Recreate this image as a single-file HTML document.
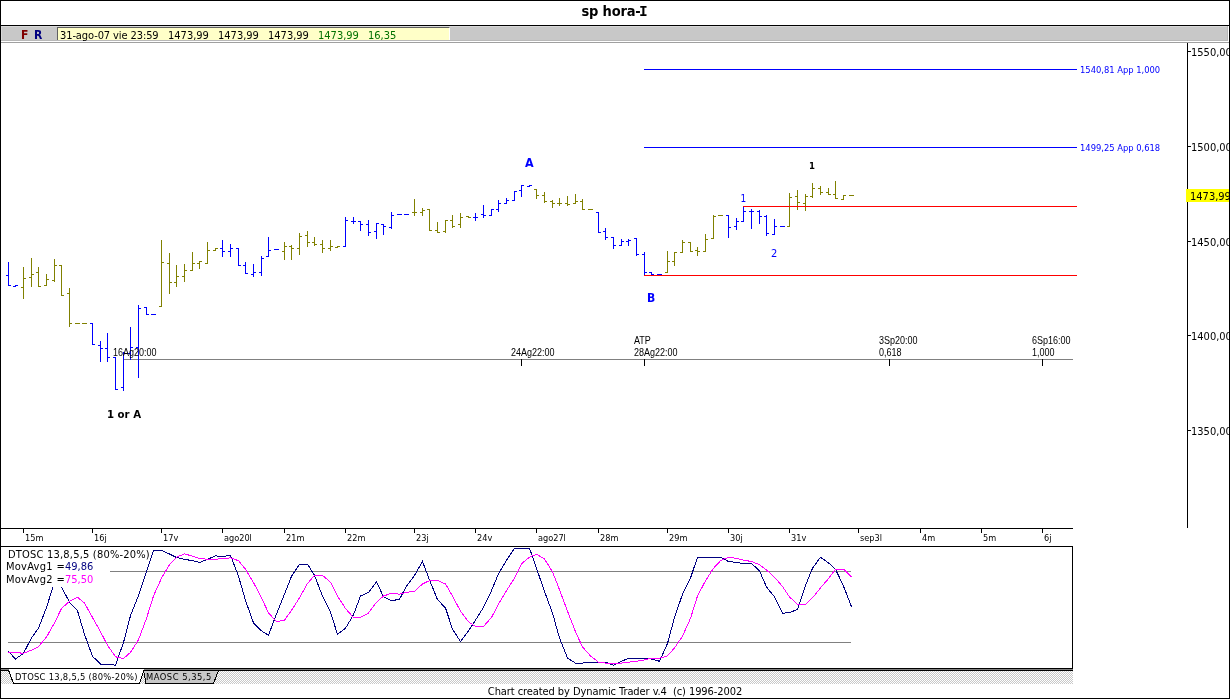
<!DOCTYPE html>
<html lang="es"><head><meta charset="utf-8"><title>sp hora-I</title>
<style>
html,body{margin:0;padding:0;background:#fff}
body{width:1230px;height:699px;position:relative;overflow:hidden;font-family:"DejaVu Sans Condensed","Liberation Sans",sans-serif;color:#000}
#win{position:absolute;left:0;top:0;width:1230px;height:699px;box-sizing:border-box;border:1px solid #000;background:#fff;overflow:hidden}
#win *{position:absolute;white-space:nowrap;margin:0;padding:0}
.title{left:0;top:-2px;width:1226px;height:24px;line-height:24px;text-align:center;font-weight:bold;font-size:14.5px;letter-spacing:-.2px}
.title i{position:static!important;font-style:normal;font-family:"DejaVu Sans Mono",monospace;font-size:14.5px;letter-spacing:0;margin:0 -1.4px 0 -1.4px!important}
.hl{left:0;top:24px;width:1228px;height:1px;background:#000}
.hl2{left:0;top:41px;width:1228px;height:1px;background:#a0a0a0}
.tbar{left:0;top:25px;width:1227px;height:15px;background:#c8c8c8;box-shadow:inset -1px -1px 0 #b8b8b8,inset 1px 1px 0 #d8d8d8}
.tbar b{top:3px;font-size:12px;line-height:13px}
.info{left:56px;top:1px;width:391px;height:12px;background:#ffffc8;border-left:1px solid #606060;border-top:1px solid #606060;border-right:1px solid #fff;font-size:11px;line-height:12px}
.info span{top:2px}
.plot{left:-1px;top:-1px}
.t9{font-family:"Liberation Sans",sans-serif;font-size:10px;line-height:10px;color:#000;transform:scaleX(.9);transform-origin:0 0}
.ap{font-size:9.3px;line-height:10px;color:#0000ff}
.ax{font-size:11px;line-height:12px;left:1190px}
.dl{font-size:9.1px;line-height:10px;top:532px}
.lb{font-weight:bold}
.osct{left:5px;top:546px;width:104px;height:40px;background:#fff;font-size:11px}
.osct span{line-height:13px;background:#fff}
.strip{left:0;top:670px;width:1072px;height:13px;background:#fff conic-gradient(#c8c8c8 25%,#fff 0 50%,#c8c8c8 0 75%,#fff 0) 0 0/2px 2px}
.tabs{left:0;top:668px}
.tabt{font-size:9.3px;line-height:11px;top:670px;letter-spacing:0}
.foot{left:0;top:684px;width:1228px;height:13px;line-height:13px;text-align:center;font-size:11px;letter-spacing:-.08px}
</style></head><body>
<div id="win">
<div class="title">sp hora-<i>I</i></div>
<div class="hl"></div><div class="hl2"></div>
<div class="tbar"><b style="left:20px;color:#800000">F</b><b style="left:33px;color:#000080">R</b>
<div class="info"><span style="left:2px;letter-spacing:-.1px">31-ago-07 vie 23:59</span><span style="left:110px">1473,99</span><span style="left:160px">1473,99</span><span style="left:210px">1473,99</span><span style="left:260px;color:#007000">1473,99</span><span style="left:310px;color:#007000">16,35</span></div></div>
<div class="strip"></div>
<svg class="plot" width="1230" height="699" viewBox="0 0 1230 699" shape-rendering="crispEdges">
<g fill="none" stroke-width="1">
<path stroke="#0000ff" d="M644 69.5H1077M644 147.5H1077"/>
<path stroke="#808080" d="M123 359.5H1073"/>
<path stroke="#000" d="M123.5 359V366M521.5 359V366M644.5 359V366M889.5 359V366M1042.5 359V366"/>
<path stroke="#808000" d="M23.5 267V299M21 287.5H24M23 278.5H26M31.5 258V287M29 277.5H32M31 274.5H34M38.5 267V287M36 272.5H39M38 286.5H41M46.5 274V286M44 285.5H47M46 279.5H49M54.5 259V282M52 280.5H55M54 265.5H57M61.5 265V296M59 265.5H62M61 295.5H64M69.5 288V327M67 293.5H70M69 323.5H72M77.5 323V324M75 323.5H78M77 323.5H80M84.5 323V324M82 323.5H85M84 323.5H87M161.5 240V307M159 306.5H162M161 262.5H164M169.5 253V294M167 263.5H170M169 282.5H172M176.5 265V287M174 282.5H177M176 276.5H179M184.5 264V282M182 276.5H185M184 270.5H187M192.5 252V271M190 270.5H193M192 263.5H195M199.5 261V269M197 263.5H200M199 261.5H202M207.5 242V264M205 263.5H208M207 250.5H210M215.5 248V251M213 250.5H216M215 248.5H218M284.5 242V260M282 251.5H285M284 246.5H287M291.5 245V260M289 246.5H292M291 248.5H294M299.5 233V255M297 248.5H300M299 236.5H302M307.5 231V247M305 235.5H308M307 242.5H310M314.5 237V246M312 242.5H315M314 244.5H317M322.5 240V253M320 244.5H323M322 248.5H325M330.5 240V251M328 248.5H331M330 246.5H333M337.5 246V248M335 247.5H338M337 246.5H340M414.5 199V216M412 212.5H415M414 212.5H417M422.5 208V216M420 212.5H423M422 210.5H425M429.5 209V231M427 209.5H430M429 230.5H432M437.5 222V233M435 230.5H438M437 232.5H440M445.5 220V233M443 231.5H446M445 220.5H448M452.5 215V228M450 220.5H453M452 226.5H455M460.5 213V228M458 224.5H461M460 217.5H463M468.5 216V218M466 216.5H469M468 217.5H471M536.5 189V199M534 189.5H537M536 195.5H539M544.5 192V203M542 195.5H545M544 201.5H547M552.5 200V208M550 201.5H553M552 203.5H555M559.5 198V206M557 203.5H560M559 203.5H562M567.5 196V206M565 203.5H568M567 204.5H570M575.5 194V204M573 203.5H576M575 201.5H578M582.5 199V210M580 201.5H583M582 209.5H585M590.5 209V210M588 209.5H591M590 209.5H593M667.5 251V273M665 272.5H668M667 261.5H670M674.5 252V266M672 261.5H675M674 252.5H677M682.5 240V253M680 252.5H683M682 242.5H685M690.5 242V252M688 242.5H691M690 251.5H693M697.5 247V256M695 250.5H698M697 251.5H700M705.5 234V252M703 251.5H706M705 239.5H708M713.5 215V239M711 238.5H714M713 216.5H716M720.5 215V216M718 215.5H721M720 215.5H723M789.5 193V227M787 226.5H790M789 197.5H792M797.5 190V210M795 196.5H798M797 202.5H800M805.5 194V211M803 203.5H806M805 196.5H808M812.5 183V198M810 196.5H813M812 188.5H815M820.5 186V195M818 188.5H821M820 192.5H823M828.5 188V195M826 192.5H829M828 194.5H831M835.5 181V199M833 194.5H836M835 198.5H838M843.5 195V200M841 199.5H844M843 195.5H846M851.5 195V196M849 195.5H852M851 195.5H854"/>
<path stroke="#0000ff" d="M8.5 262V286M6 275.5H9M8 285.5H11M15.5 285V287M13 286.5H16M15 285.5H18M92.5 323V345M90 323.5H93M92 344.5H95M100.5 341V362M98 345.5H101M100 348.5H103M107.5 333V362M105 348.5H108M107 357.5H110M115.5 357V390M113 357.5H116M115 389.5H118M123.5 352V391M121 387.5H124M123 353.5H126M130.5 327V360M128 353.5H131M130 347.5H133M138.5 305V378M136 347.5H139M138 308.5H141M146.5 307V315M144 307.5H147M146 314.5H149M153.5 314V315M151 314.5H154M153 314.5H156M222.5 240V257M220 248.5H223M222 251.5H225M230.5 244V257M228 251.5H231M230 248.5H233M238.5 248V266M236 248.5H239M238 265.5H241M245.5 262V274M243 265.5H246M245 273.5H248M253.5 264V277M251 274.5H254M253 272.5H256M261.5 256V276M259 272.5H262M261 258.5H264M268.5 237V257M266 256.5H269M268 250.5H271M276.5 249V250M274 249.5H277M276 249.5H279M345.5 217V247M343 246.5H346M345 220.5H348M353.5 217V224M351 221.5H354M353 221.5H356M360.5 221V231M358 221.5H361M360 224.5H363M368.5 220V236M366 224.5H369M368 232.5H371M376.5 223V239M374 231.5H377M376 223.5H379M383.5 224V235M381 224.5H384M383 226.5H386M391.5 212V229M389 227.5H392M391 215.5H394M399.5 214V215M397 214.5H400M399 214.5H402M406.5 214V215M404 214.5H407M406 214.5H409M475.5 213V221M473 217.5H476M475 217.5H478M483.5 205V218M481 214.5H484M483 215.5H486M491.5 209V216M489 215.5H492M491 209.5H494M498.5 200V212M496 209.5H499M498 203.5H501M506.5 198V204M504 203.5H507M506 200.5H509M514.5 191V201M512 200.5H515M514 191.5H517M521.5 185V197M519 190.5H522M521 185.5H524M529.5 185V187M527 186.5H530M529 185.5H532M598.5 212V233M596 212.5H599M598 232.5H601M605.5 228V240M603 231.5H606M605 237.5H608M613.5 237V249M611 237.5H614M613 245.5H616M621.5 239V246M619 245.5H622M621 241.5H624M628.5 239V246M626 241.5H629M628 240.5H631M636.5 238V256M634 238.5H637M636 254.5H639M644.5 252V276M642 254.5H645M644 272.5H647M651.5 272V275M649 272.5H652M651 274.5H654M659.5 274V275M657 274.5H660M659 274.5H662M728.5 215V238M726 215.5H729M728 227.5H731M736.5 218V230M734 226.5H737M736 221.5H739M743.5 206V222M741 221.5H744M743 211.5H746M751.5 209V229M749 211.5H752M751 211.5H754M759.5 210V224M757 211.5H760M759 216.5H762M766.5 215V236M764 216.5H767M766 233.5H769M774.5 219V235M772 234.5H775M774 226.5H777M782.5 226V227M780 226.5H783M782 226.5H785"/>
<path stroke="#ff0000" d="M644 275.5H1077M743 206.5H1077"/>
<path stroke="#000" d="M1187.5 43V528M1188 51.5H1191M1188 146.5H1191M1188 241.5H1191M1188 335.5H1191M1188 430.5H1191"/>
<path stroke="#000" d="M1 528.5H1073M23.5 529V533M92.5 529V533M161.5 529V533M222.5 529V533M284.5 529V533M345.5 529V533M414.5 529V533M475.5 529V533M536.5 529V533M598.5 529V533M667.5 529V533M728.5 529V533M789.5 529V533M858.5 529V533M920.5 529V533M981.5 529V533M1042.5 529V533"/>
<path stroke="#000" d="M1 546.5H1073M1072.5 546V669M1 668.5H1073"/>
<path stroke="#808080" d="M8 571.5H851M8 642.5H851"/>
<polyline stroke="#000080" points="8.5,651.4 15.5,659.1 23.5,653.2 31.5,638.0 38.5,628.2 46.5,607.5 54.5,582.0 61.5,587.0 69.5,602.2 77.5,610.8 84.5,634.4 92.5,656.3 100.5,664.0 107.5,664.0 115.5,665.2 123.5,642.5 130.5,615.7 138.5,595.4 146.5,571.8 153.5,550.4 161.5,550.4 169.5,554.0 176.5,557.5 184.5,559.3 192.5,560.7 199.5,562.5 207.5,559.3 215.5,555.9 222.5,556.6 230.5,555.4 238.5,576.3 245.5,600.5 253.5,622.8 261.5,630.9 268.5,635.3 276.5,613.9 284.5,594.2 291.5,576.3 299.5,564.1 307.5,564.1 314.5,575.4 322.5,596.0 330.5,612.1 337.5,634.4 345.5,628.2 353.5,614.8 360.5,596.0 368.5,592.4 376.5,581.7 383.5,596.9 391.5,600.8 399.5,599.2 406.5,586.1 414.5,575.4 422.5,561.5 429.5,579.9 437.5,599.6 445.5,608.0 452.5,629.1 460.5,641.6 468.5,630.9 475.5,620.1 483.5,607.3 491.5,590.6 498.5,573.6 506.5,560.2 514.5,548.2 521.5,548.2 529.5,548.2 536.5,568.3 544.5,591.5 552.5,613.0 559.5,638.0 567.5,658.1 575.5,663.1 582.5,663.1 590.5,662.2 598.5,662.2 605.5,662.2 613.5,665.2 621.5,661.3 628.5,658.2 636.5,658.2 644.5,658.2 651.5,659.0 659.5,661.3 667.5,643.4 674.5,617.5 682.5,594.2 690.5,578.1 697.5,557.2 705.5,557.2 713.5,557.2 720.5,557.2 728.5,561.5 736.5,562.5 743.5,563.4 751.5,563.4 759.5,570.9 766.5,587.0 774.5,596.9 782.5,613.3 789.5,612.6 797.5,609.4 805.5,585.3 812.5,568.3 820.5,557.2 828.5,562.9 835.5,569.2 843.5,586.1 851.5,606.7"/>
<polyline stroke="#ff00ff" points="8.5,652.3 15.5,652.7 23.5,653.2 31.5,650.2 38.5,646.6 46.5,637.1 54.5,622.8 61.5,608.5 69.5,601.4 77.5,597.2 84.5,603.1 92.5,617.5 100.5,631.8 107.5,645.2 115.5,656.8 123.5,658.6 130.5,652.3 138.5,639.8 146.5,618.3 153.5,596.0 161.5,578.1 169.5,564.7 176.5,557.2 184.5,553.9 192.5,556.1 199.5,558.4 207.5,559.3 215.5,559.4 222.5,558.4 230.5,557.9 238.5,560.7 245.5,569.2 253.5,582.6 261.5,597.8 268.5,613.0 276.5,621.6 284.5,620.1 291.5,610.3 299.5,597.8 307.5,583.5 314.5,575.4 322.5,575.4 330.5,582.2 337.5,596.0 345.5,608.5 353.5,617.5 360.5,617.5 368.5,613.0 376.5,602.2 383.5,596.0 391.5,593.3 399.5,594.2 406.5,592.4 414.5,591.2 422.5,584.0 429.5,580.6 437.5,580.4 445.5,584.0 452.5,596.0 460.5,611.2 468.5,621.9 475.5,626.4 483.5,626.4 491.5,617.5 498.5,604.0 506.5,590.6 514.5,578.1 521.5,563.8 529.5,557.2 536.5,554.3 544.5,559.0 552.5,571.8 559.5,589.7 567.5,611.2 575.5,631.8 582.5,647.0 590.5,655.9 598.5,662.2 605.5,663.1 613.5,663.4 621.5,663.1 628.5,662.2 636.5,661.3 644.5,660.0 651.5,658.2 659.5,658.2 667.5,655.9 674.5,647.9 682.5,636.2 690.5,618.3 697.5,596.0 705.5,580.8 713.5,568.3 720.5,560.7 728.5,557.2 736.5,558.4 743.5,560.2 751.5,561.5 759.5,564.7 766.5,570.0 774.5,577.2 782.5,586.5 789.5,596.9 797.5,604.4 805.5,604.4 812.5,597.8 820.5,587.9 828.5,578.6 835.5,569.2 843.5,569.2 851.5,576.8"/>
</g>
</svg>
<span class="ax" style="top:46px">1550,00</span>
<span class="ax" style="top:141px">1500,00</span>
<span class="ax" style="top:236px">1450,00</span>
<span class="ax" style="top:330px">1400,00</span>
<span class="ax" style="top:425px">1350,00</span>
<span class="ax" style="top:188px;left:1185px;width:43px;height:13px;background:#ffff00;box-sizing:border-box;padding-left:4px;line-height:15px">1473,99</span>
<span class="ap" style="left:1079px;top:63.5px">1540,81 App 1,000</span>
<span class="ap" style="left:1079px;top:141.5px">1499,25 App 0,618</span>
<span class="t9" style="left:112px;top:346.5px">16Ag20:00</span>
<span class="t9" style="left:510px;top:346.5px">24Ag22:00</span>
<span class="t9" style="left:633px;top:334.5px">ATP</span>
<span class="t9" style="left:633px;top:346.5px">28Ag22:00</span>
<span class="t9" style="left:878px;top:334.5px">3Sp20:00</span>
<span class="t9" style="left:878px;top:346.5px">0,618</span>
<span class="t9" style="left:1031px;top:334.5px">6Sp16:00</span>
<span class="t9" style="left:1031px;top:346.5px">1,000</span>
<span class="lb" style="left:524px;top:155px;font-size:12.4px;line-height:14px;color:#0000ff">A</span>
<span class="lb" style="left:646px;top:290px;font-size:12px;line-height:14px;color:#0000ff">B</span>
<span class="lb" style="left:106px;top:407px;font-size:11.3px;line-height:14px">1 or A</span>
<span class="lb" style="left:808px;top:159px;font-size:9.5px;line-height:11px">1</span>
<span style="left:739.5px;top:192px;font-size:10px;line-height:12px;color:#0000ff">1</span>
<span style="left:770px;top:247px;font-size:11px;line-height:12px;color:#0000ff">2</span>
<span class="dl" style="left:24px">15m</span><span class="dl" style="left:93px">16j</span><span class="dl" style="left:162px">17v</span><span class="dl" style="left:223px">ago20l</span><span class="dl" style="left:285px">21m</span><span class="dl" style="left:346px">22m</span><span class="dl" style="left:415px">23j</span><span class="dl" style="left:476px">24v</span><span class="dl" style="left:537px">ago27l</span><span class="dl" style="left:599px">28m</span><span class="dl" style="left:668px">29m</span><span class="dl" style="left:729px">30j</span><span class="dl" style="left:790px">31v</span><span class="dl" style="left:859px">sep3l</span><span class="dl" style="left:921px">4m</span><span class="dl" style="left:982px">5m</span><span class="dl" style="left:1043px">6j</span>
<div class="osct"><span style="left:2px;top:1px;width:141px;letter-spacing:.2px">DTOSC 13,8,5,5 (80%-20%)</span><span style="left:0px;top:13px;letter-spacing:.25px;word-spacing:.3px">MovAvg1 =</span><span style="left:59px;top:13px;color:#000080">49,86</span><span style="left:0px;top:26px;letter-spacing:.25px;word-spacing:.3px">MovAvg2 =</span><span style="left:59px;top:26px;color:#ff00ff">75,50</span></div>
<svg class="tabs" width="1230" height="18" viewBox="0 668 1230 18" shape-rendering="crispEdges" style="left:-1px;top:667px">
<path d="M1 669.5H9" stroke="#808080" fill="none"/>
<path d="M9 669.5H1073" stroke="#808080" fill="none"/>
<path d="M1 670.5H1073" stroke="#000" fill="none"/>
<path d="M143.5 670.5L146 683.5H213.5L218.5 670.5Z" fill="#c8c8c8" stroke="#000"/>
<path d="M8.5 669L13.5 683.5H139.5L144 669Z" fill="#fff" stroke="none"/>
<path d="M8.5 670L13.5 683.5H139.5L144 670" fill="none" stroke="#000"/>
</svg>
<span class="tabt" style="left:14px;letter-spacing:.29px">DTOSC 13,8,5,5 (80%-20%)</span>
<span class="tabt" style="left:145px;letter-spacing:.5px">MAOSC 5,35,5</span>
<div class="foot">Chart created by Dynamic Trader v.4 &nbsp;(c) 1996-2002</div>
</div>
</body></html>
